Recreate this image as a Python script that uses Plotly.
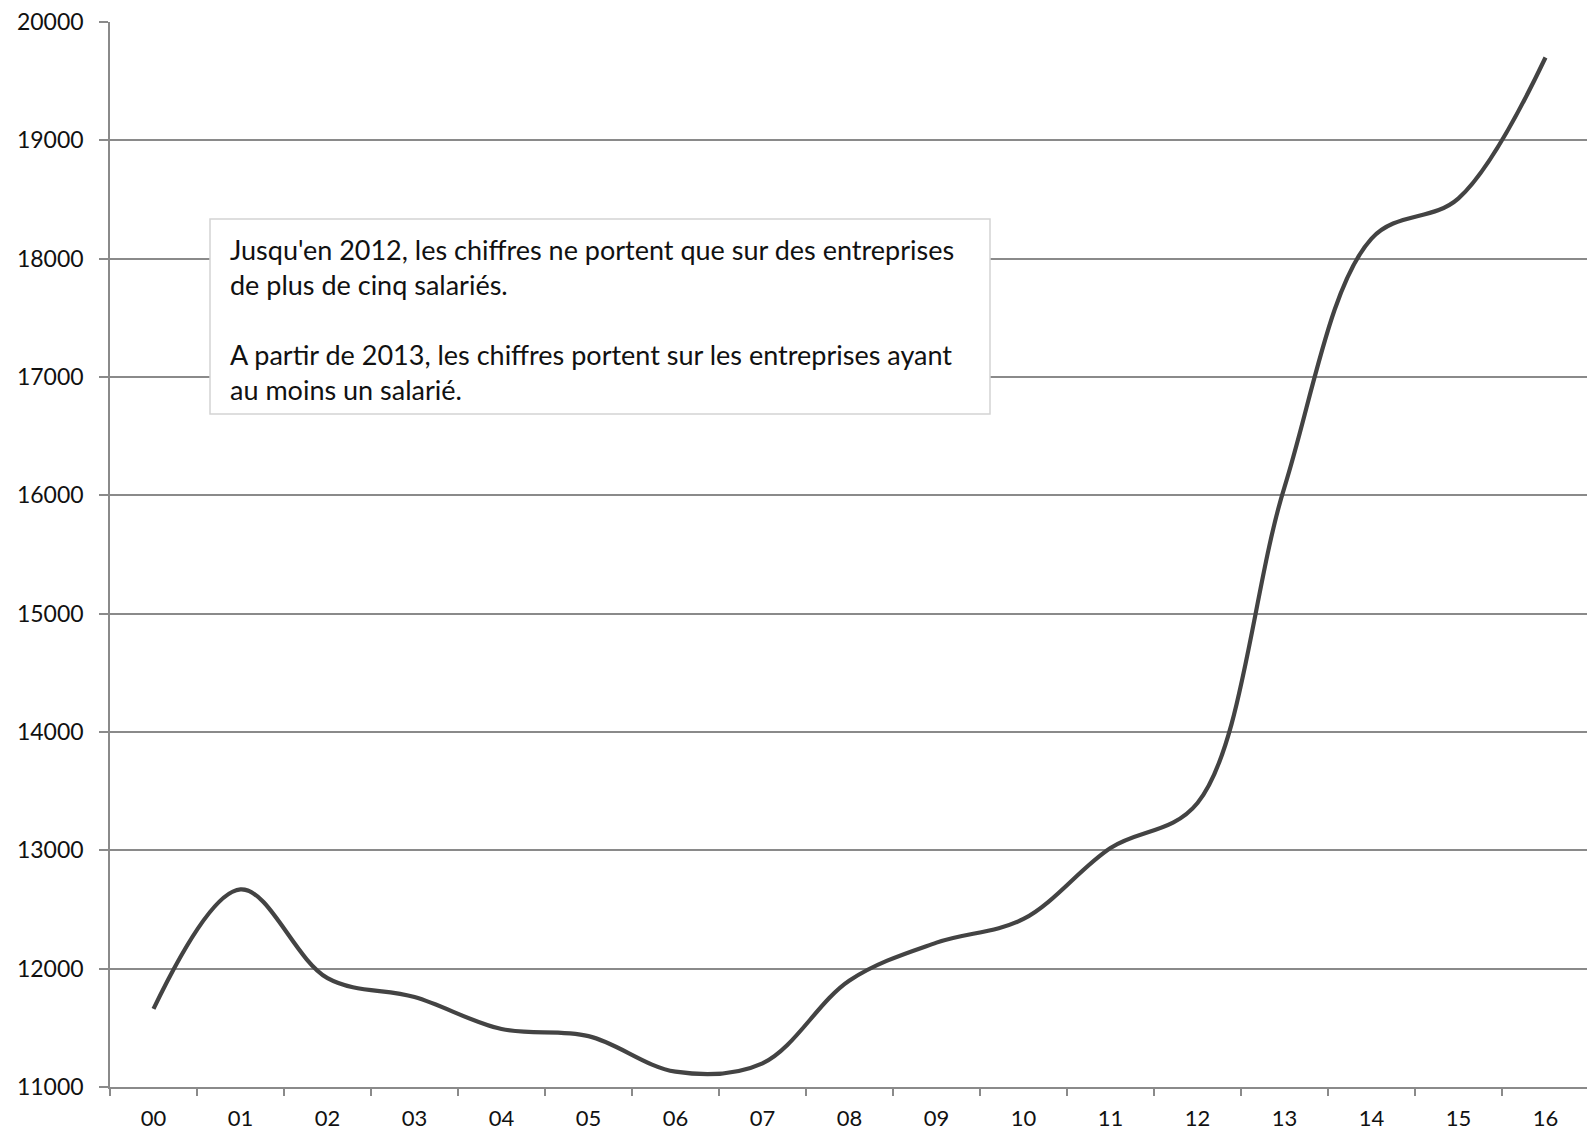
import plotly.graph_objects as go

years = ["00", "01", "02", "03", "04", "05", "06", "07", "08",
         "09", "10", "11", "12", "13", "14", "15", "16"]
values = [11660, 12670, 11920, 11760, 11490, 11430, 11130, 11200, 11900,
          12220, 12420, 13020, 13400, 16070, 18170, 18510, 19700]
y_ticks = [11000, 12000, 13000, 14000, 15000, 16000, 17000, 18000, 19000, 20000]

note = ("Jusqu'en 2012, les chiffres ne portent que sur des entreprises<br>"
        "de plus de cinq salariés.<br><br>"
        "A partir de 2013, les chiffres portent sur les entreprises ayant<br>"
        "au moins un salarié.")

# plot area in page pixels (used only to convert the note box position)
PL, PR, PT, PB = 110, 1589, 22, 1087


def px(x):
    return (x - PL) / (PR - PL)


def py(y):
    return (PB - y) / (PB - PT)


fig = go.Figure()
fig.add_trace(go.Scatter(
    x=years, y=values, mode="lines",
    line=dict(color="#434343", width=4.2, shape="spline", smoothing=1.0),
    showlegend=False, hoverinfo="x+y",
))

fig.update_layout(
    width=1587, height=1124,
    margin=dict(l=102, r=6, t=14, b=45, autoexpand=False),
    paper_bgcolor="white", plot_bgcolor="white",
    font=dict(family="Lato, 'Noto Sans', sans-serif", size=23, color="#111111"),
    xaxis=dict(
        type="category", categoryorder="array", categoryarray=years,
        range=[-0.5, 16.5], tickson="boundaries", automargin=False,
        ticks="outside", ticklen=7, tickcolor="#8a8a8a", tickwidth=1.5,
        showline=True, linecolor="#8a8a8a", linewidth=1.5,
        showgrid=False, zeroline=False,
        tickfont=dict(size=22), ticklabelstandoff=11,
    ),
    yaxis=dict(
        range=[11000, 20000], tickvals=y_ticks, ticktext=[str(v) for v in y_ticks],
        automargin=False,
        ticks="outside", ticklen=9, tickcolor="#8a8a8a", tickwidth=1.5,
        showline=True, linecolor="#8a8a8a", linewidth=1.5,
        showgrid=True, gridcolor="#8a8a8a", gridwidth=1.5,
        zeroline=False, tickfont=dict(size=23), ticklabelstandoff=11,
        ticklabeloverflow="allow",
    ),
)

fig.add_shape(
    type="rect", xref="paper", yref="paper", layer="above",
    x0=px(210), x1=px(990), y0=py(414), y1=py(219),
    fillcolor="white", line=dict(color="#d4d4d4", width=1.5),
)

fig.add_annotation(
    xref="paper", yref="paper",
    x=px(229), y=py(319.5),
    xanchor="left", yanchor="middle",
    text=note, showarrow=False, align="left",
    font=dict(size=27, color="#111111"),
    borderpad=0,
)

fig.write_html("out.html")
